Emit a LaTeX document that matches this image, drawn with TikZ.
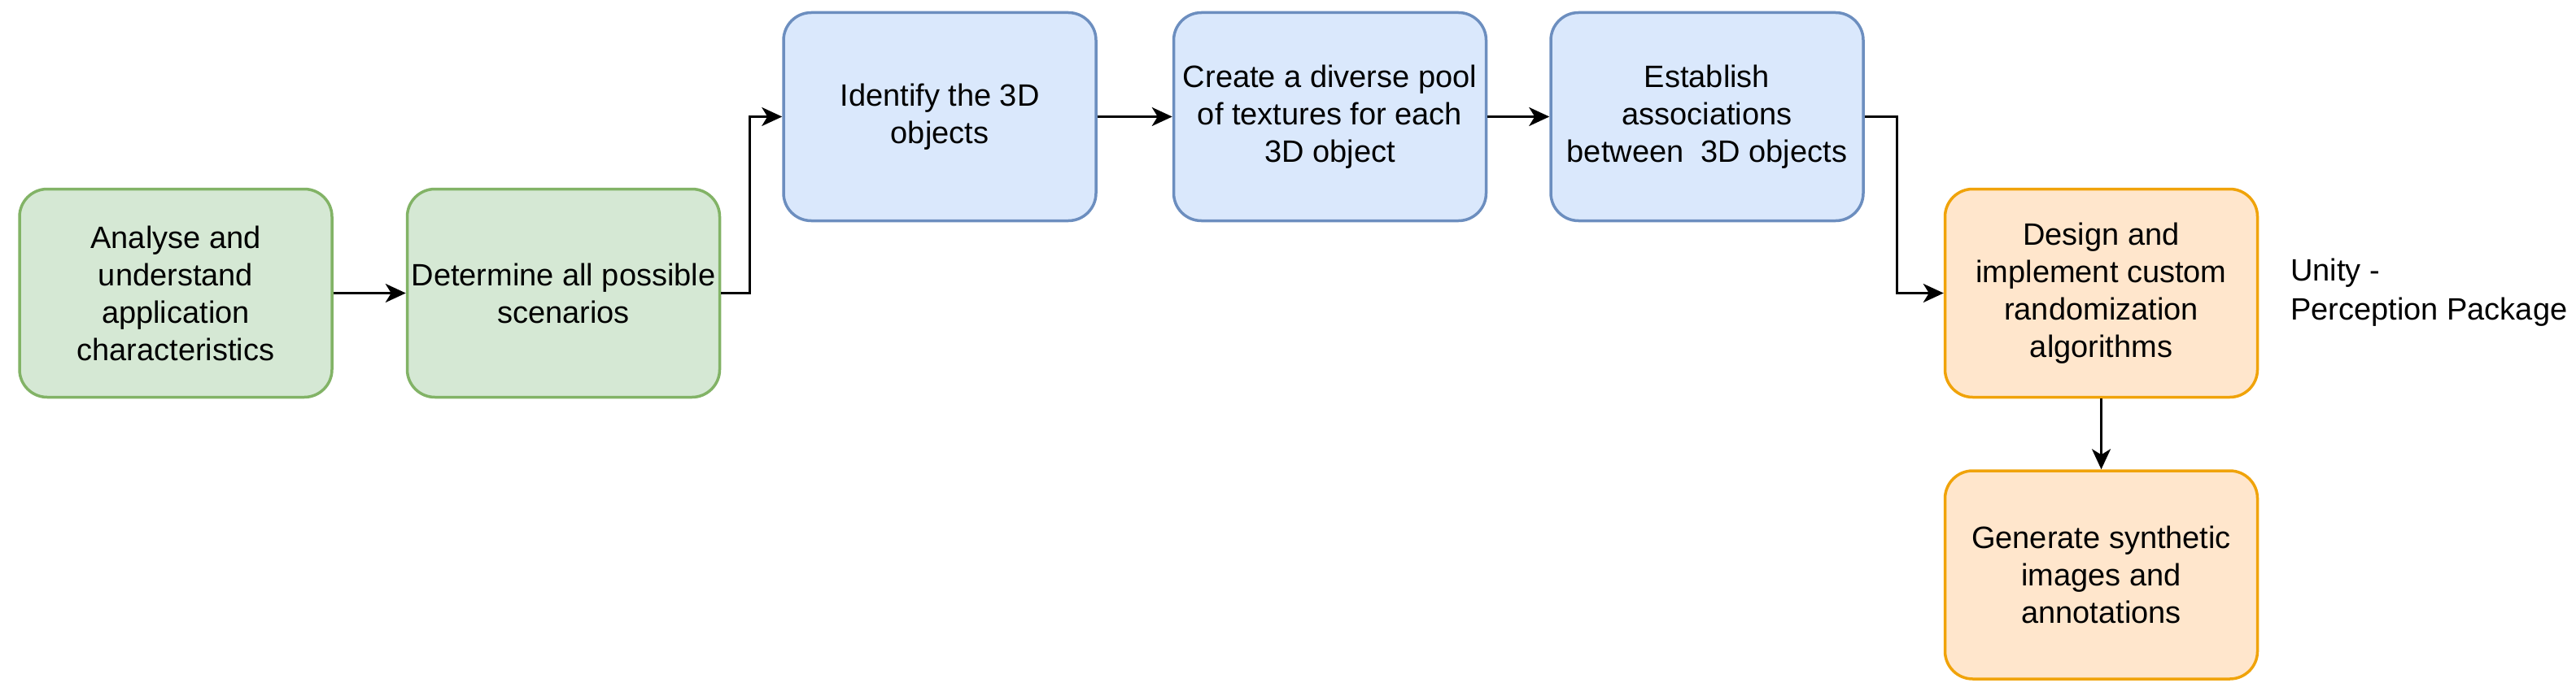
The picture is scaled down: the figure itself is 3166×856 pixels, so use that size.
\documentclass[tikz,border=0pt]{standalone}
\usepackage{fontspec}
\setmainfont{Liberation Sans}
\usetikzlibrary{arrows.meta}
\definecolor{gfill}{HTML}{D5E8D4}
\definecolor{gline}{HTML}{82B366}
\definecolor{bfill}{HTML}{DAE8FC}
\definecolor{bline}{HTML}{6C8EBF}
\definecolor{ofill}{HTML}{FFE6CC}
\definecolor{oline}{HTML}{F0A30A}
\tikzset{
  box/.style={rectangle, rounded corners=34pt, line width=3.5pt,
    minimum width=384pt, minimum height=256pt, align=center,
    font=\fontsize{38}{46}\selectfont, inner sep=0pt},
  gbox/.style={box, fill=gfill, draw=gline},
  bbox/.style={box, fill=bfill, draw=bline},
  obox/.style={box, fill=ofill, draw=oline},
  conn/.style={line width=3pt, -{Stealth[length=25pt, width=23pt, inset=7pt]}},
}
\begin{document}
\begin{tikzpicture}[x=1pt, y=-1pt]
\useasboundingbox (0,0) rectangle (3166,856);
\node[gbox] (a) at (216,360.5) {Analyse and\\understand\\application\\characteristics};
\node[gbox] (b) at (692.5,360.5) {Determine all possible\\scenarios};
\node[bbox] (c) at (1155,143.5) {Identify the 3D\\objects};
\node[bbox] (d) at (1634.5,143.5) {Create a diverse pool\\of textures for each\\3D object};
\node[bbox] (e) at (2098,143.5) {Establish\\associations\\between\ \ 3D objects};
\node[obox] (f) at (2582.5,360.5) {Design and\\implement custom\\randomization\\algorithms};
\node[obox] (g) at (2582.5,707) {Generate synthetic\\images and\\annotations};
\node[anchor=west, align=left, font=\fontsize{38}{48}\selectfont, inner sep=0pt] (u) at (2815,360) {Unity -\\Perception Package};
\coordinate (j1) at (921,0);
\coordinate (j2) at (2331,0);
\draw[conn] (a.east) -- (b.east -| b.west);
\draw[conn] (b.east) -- (b.east -| j1) -- (c.west -| j1) -- (c.west);
\draw[conn] (c.east) -- (d.west);
\draw[conn] (d.east) -- (e.west);
\draw[conn] (e.east) -- (e.east -| j2) -- (f.west -| j2) -- (f.west);
\draw[conn] (f.south) -- (g.north);
\end{tikzpicture}
\end{document}
